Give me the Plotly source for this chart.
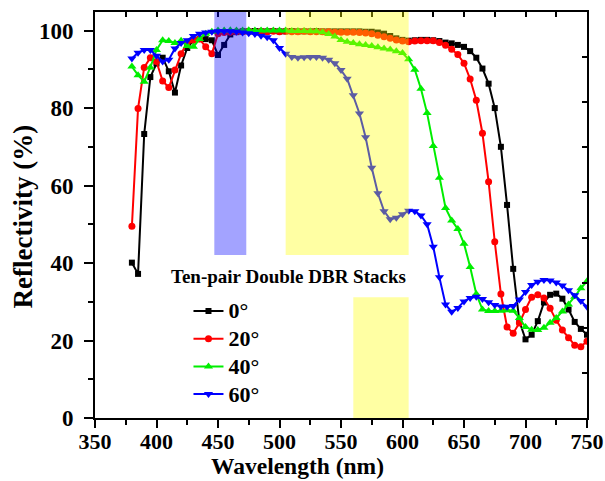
import plotly.graph_objects as go

wavelength = [380, 385, 390, 395, 400, 405, 410, 415, 420, 425, 430, 435, 440, 445, 450,
              455, 460, 465, 470, 475, 480, 485, 490, 495, 500, 505, 510, 515, 520, 525,
              530, 535, 540, 545, 550, 555, 560, 565, 570, 575, 580, 585, 590, 595, 600,
              605, 610, 615, 620, 625, 630, 635, 640, 645, 650, 655, 660, 665, 670, 675,
              680, 685, 690, 695, 700, 705, 710, 715, 720, 725, 730, 735, 740, 745, 750]

r_0deg = [40.1, 37.2, 73.3, 88.0, 91.5, 93.0, 89.5, 84.0, 91.0, 95.5, 97.5, 97.8, 97.8, 97.5, 93.7,
          96.3, 99.0, 99.6, 99.8, 99.8, 99.9, 99.8, 99.8, 99.9, 99.8, 99.8, 99.9, 99.8, 99.8, 99.8,
          99.9, 99.8, 99.8, 99.8, 99.8, 99.8, 99.8, 99.8, 99.7, 99.7, 99.5, 99.2, 98.6, 98.0, 97.6,
          97.4, 97.5, 97.6, 97.6, 97.5, 97.3, 96.9, 96.7, 96.3, 95.8, 94.7, 93.0, 90.2, 86.3, 80.0,
          70.0, 55.0, 38.5, 25.0, 20.3, 21.5, 25.0, 29.8, 31.8, 32.1, 30.8, 28.0, 24.8, 23.0, 21.5]

r_20deg = [49.5, 79.9, 90.5, 93.0, 92.0, 87.0, 85.3, 89.8, 94.0, 97.0, 97.5, 97.8, 95.8, 94.0, 99.2,
           99.5, 99.6, 99.7, 99.7, 99.8, 99.7, 99.8, 99.7, 99.8, 99.7, 99.8, 99.7, 99.7, 99.8, 99.7,
           99.7, 99.7, 99.7, 99.6, 99.6, 99.6, 99.6, 99.5, 99.4, 99.2, 98.8, 98.4, 98.0, 97.6, 97.3,
           97.1, 97.3, 97.4, 97.4, 97.4, 96.9, 96.2, 95.2, 93.8, 91.6, 87.5, 82.0, 73.5, 61.0, 45.5,
           32.0, 23.5, 21.9, 24.5, 28.0, 31.2, 31.8, 31.0, 28.3, 25.2, 22.7, 20.7, 18.8, 18.4, 19.8]

r_40deg = [90.7, 88.5, 86.8, 90.5, 95.0, 97.5, 97.3, 96.8, 97.4, 96.0, 95.8, 97.8, 99.2, 99.7, 100.0,
           100.0, 100.1, 100.0, 100.0, 100.1, 100.0, 100.0, 100.0, 100.0, 100.0, 100.0, 99.9, 99.9, 99.9, 99.8,
           99.8, 99.6, 99.1, 98.5, 97.6, 97.1, 96.8, 96.5, 96.3, 96.0, 95.7, 95.4, 95.1, 94.7, 94.2,
           92.6, 89.9, 85.0, 78.7, 70.2, 62.0, 54.2, 51.0, 48.8, 45.0, 39.0, 32.0, 28.0, 27.6, 27.6,
           27.7, 27.8, 27.7, 25.8, 23.5, 22.8, 22.7, 23.3, 24.6, 25.8, 27.5, 29.3, 31.3, 33.5, 35.3]

r_60deg = [92.8, 94.3, 95.0, 95.0, 93.5, 92.0, 92.5, 95.4, 96.8, 97.5, 98.6, 99.2, 99.5, 99.7, 99.8,
           99.8, 99.8, 99.7, 99.5, 99.3, 99.1, 98.7, 98.3, 97.5, 95.5, 94.0, 93.2, 93.0, 93.1, 93.2,
           93.2, 93.0, 92.5, 91.6, 89.8, 87.6, 83.3, 78.6, 72.5, 64.6, 58.0, 53.4, 51.3, 51.7, 52.6,
           53.5, 53.4, 52.3, 50.0, 44.2, 36.3, 29.3, 27.4, 28.4, 30.1, 31.0, 31.3, 30.7, 29.9, 29.2,
           28.8, 28.7, 28.9, 30.6, 32.5, 34.3, 35.2, 35.6, 35.5, 35.0, 34.2, 33.0, 31.7, 30.2, 28.7]

series_names = ["0°", "20°", "40°", "60°"]
series_values = [r_0deg, r_20deg, r_40deg, r_60deg]
series_colors = ["#000000", "#ff0000", "#00ee00", "#0000ff"]
series_symbols = ["square", "circle", "triangle-up", "triangle-down"]
series_sizes = [6, 7, 8, 8]

x_ticks = [350, 400, 450, 500, 550, 600, 650, 700, 750]
y_ticks = [0, 20, 40, 60, 80, 100]

FONT = "Liberation Serif"

fig = go.Figure()
for name, vals, col, sym, sz in zip(series_names, series_values, series_colors,
                                    series_symbols, series_sizes):
    fig.add_trace(go.Scatter(
        x=wavelength, y=vals, mode="lines+markers",
        name='<span style="font-size:22px">' + name + "</span>",
        line=dict(color=col, width=2),
        marker=dict(symbol=sym, size=sz, color=col, line=dict(width=0)),
        legendgroup=name,
    ))

# invisible trace to activate the mirrored (top/right) frame axes
fig.add_trace(go.Scatter(x=[], y=[], xaxis="x2", yaxis="y2", showlegend=False,
                         hoverinfo="skip"))

# shaded bands drawn semi-transparently above the data
bands = [
    dict(x0=447, x1=473, y0=42.1, y1=105, color="rgba(0,0,255,0.36)"),
    dict(x0=505, x1=605, y0=42.1, y1=105, color="rgba(255,255,0,0.36)"),
    dict(x0=560, x1=605, y0=0, y1=31.2, color="rgba(255,255,0,0.36)"),
]
for b in bands:
    fig.add_shape(type="rect", xref="x", yref="y", x0=b["x0"], x1=b["x1"],
                  y0=b["y0"], y1=b["y1"], fillcolor=b["color"],
                  line=dict(width=0), layer="above")

fig.add_annotation(text="<b>Ten-pair Double DBR Stacks</b>", xref="x", yref="y",
                   x=507.6, y=36.6, showarrow=False, xanchor="center", yanchor="middle",
                   font=dict(family=FONT, size=19, color="black"))

# axis titles (placed as in the reference, slightly off-centre)
fig.add_annotation(text="<b>Wavelength (nm)</b>", xref="paper", yref="paper",
                   x=0.4126, y=-0.118, showarrow=False, xanchor="center", yanchor="middle",
                   font=dict(family=FONT, size=23.5, color="black"))
fig.add_annotation(text="<b>Reflectivity (%)</b>", xref="paper", yref="paper",
                   x=-0.146, y=0.497, showarrow=False, textangle=-90,
                   xanchor="center", yanchor="middle",
                   font=dict(family=FONT, size=27, color="black"))

x_font = dict(family=FONT, size=22, color="black", weight="bold")
y_font = dict(family=FONT, size=23, color="black", weight="bold")

fig.update_layout(
    width=605, height=481,
    margin=dict(l=95, r=18, t=12, b=63, autoexpand=False),
    paper_bgcolor="white", plot_bgcolor="white",
    font=dict(family=FONT, color="black"),
    showlegend=True,
    legend=dict(x=0.19, y=0.31, xanchor="left", yanchor="top",
                bgcolor="rgba(255,255,255,0)", borderwidth=0,
                font=dict(family=FONT, size=19, color="black", weight="bold"),
                traceorder="grouped", tracegroupgap=0, itemwidth=30),
    xaxis=dict(range=[350, 750], tickvals=x_ticks, ticks="outside", ticklen=8,
               tickwidth=2, tickcolor="black", showline=True, linewidth=2,
               linecolor="black", showgrid=False, zeroline=False, automargin=False,
               tickfont=x_font, ticklabelstandoff=-5,
               minor=dict(dtick=25, tick0=350, ticks="outside", ticklen=5,
                          tickwidth=2, tickcolor="black")),
    yaxis=dict(range=[0, 104.8], tickvals=y_ticks, ticks="outside", ticklen=9,
               tickwidth=2, tickcolor="black", showline=True, linewidth=2,
               linecolor="black", showgrid=False, zeroline=False, automargin=False,
               tickfont=y_font, ticklabelstandoff=6,
               minor=dict(dtick=10, tick0=0, ticks="outside", ticklen=5,
                          tickwidth=2, tickcolor="black")),
    xaxis2=dict(overlaying="x", side="top", anchor="y", range=[350, 750],
                tick0=350, dtick=25, ticks="inside", ticklen=5, tickwidth=2,
                tickcolor="black", showticklabels=False, showline=True,
                linewidth=2, linecolor="black", showgrid=False, zeroline=False,
                automargin=False),
    yaxis2=dict(overlaying="y", side="right", anchor="x", range=[0, 9],
                tick0=0, dtick=1, ticks="inside", ticklen=5, tickwidth=2,
                tickcolor="black", showticklabels=False, showline=True,
                linewidth=2, linecolor="black", showgrid=False, zeroline=False,
                automargin=False),
)

fig.write_html("out.html",
               config={"displayModeBar": False, "staticPlot": True},
               post_script="document.body.style.margin='0';"
                           "document.body.style.overflow='hidden';")
